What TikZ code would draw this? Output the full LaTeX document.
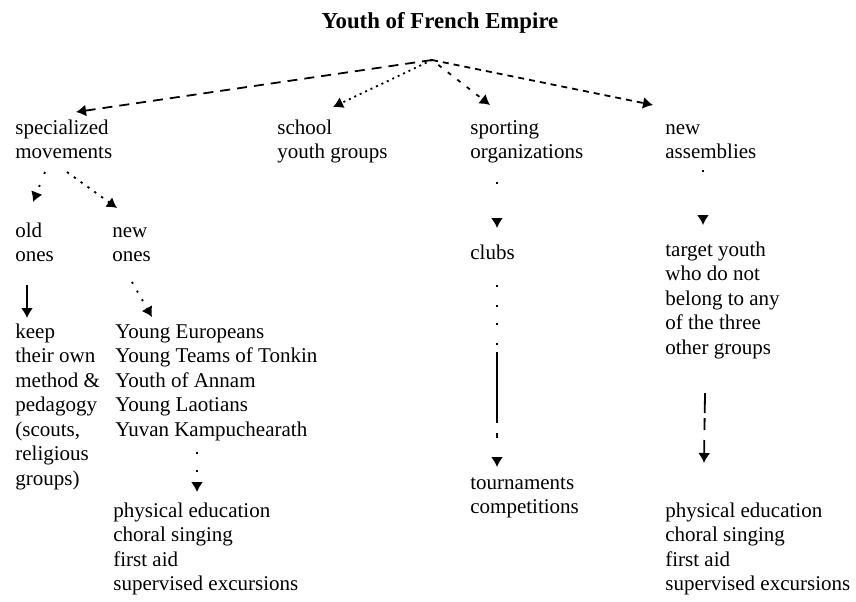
\documentclass[tikz,border=0pt]{standalone}
\usepackage{fontspec}
\setmainfont{Liberation Serif}
\usetikzlibrary{arrows.meta}
\newcommand{\bodysize}{\fontsize{10.5}{12.25}\selectfont}
\newcommand{\stack}[1]{\begin{tabular}[t]{@{}l@{}}#1\end{tabular}}
\tikzset{
	lbl/.style={anchor=base west, inner sep=0pt, font=\bodysize},
	link/.style={line width=0.9pt, -{Latex[length=5pt,width=6pt]}},
}

\begin{document}
\begin{tikzpicture}[x=0.5pt, y=-0.5pt]
			%%%%% START %%%%%
			\useasboundingbox (0, 0) rectangle (856, 601);
			
			\node[anchor=base, inner sep=0pt, font=\bfseries\fontsize{11.4}{13}\selectfont] (title) at (440, 28) {Youth of French Empire};
			\coordinate (root) at (432, 60);
			
			\node[lbl] (spec) at (15, 134) {\stack{specialized\\movements}};
			\node[lbl] (school) at (277, 134) {\stack{school\\youth groups}};
			\node[lbl] (sport) at (470, 134) {\stack{sporting\\organizations}};
			\node[lbl] (assem) at (665, 134) {\stack{new\\assemblies}};
			
			\draw[link, dash pattern=on 5pt off 3.5pt] (root) -- ([shift={(61,-22)}]spec.base west);
			\draw[link, dash pattern=on 1pt off 2pt] (root) -- ([shift={(56,-27)}]school.base west);
			\draw[link, dash pattern=on 2pt off 4pt, shorten <=4pt] (root) -- ([shift={(20,-29)}]sport.base west);
			\draw[link, dash pattern=on 3pt off 2.5pt] (root) -- ([shift={(-12,-29)}]assem.base west);
			
			\node[lbl] (old) at (15, 237) {\stack{old\\ones}};
			\node[lbl] (new) at (112, 237) {\stack{new\\ones}};
			
			\draw[link, dash pattern=on 1pt off 6pt] ([shift={(30,38)}]spec.base west) -- ([shift={(18,-35)}]old.base west);
			\draw[link, dash pattern=on 1.2pt off 3pt] ([shift={(52,38)}]spec.base west) -- ([shift={(5,-29)}]new.base west);
			
			\node[lbl] (keep) at (15, 338) {\stack{keep\\their own\\method \&\\pedagogy\\(scouts,\\religious\\groups)}};
			\node[lbl] (young) at (115, 338) {\stack{Young Europeans\\Young Teams of Tonkin\\Youth of Annam\\Young Laotians\\Yuvan Kampuchearath}};
			
			\draw[link] ([shift={(12,48)}]old.base west) -- ([shift={(12,-20)}]keep.base west);
			\draw[link, dash pattern=on 1pt off 4pt] ([shift={(20,45)}]new.base west) -- ([shift={(37,-21)}]young.base west);
			
			\node[lbl] (physL) at (113, 517) {\stack{physical education\\choral singing\\first aid\\supervised excursions}};
			\draw[link, dash pattern=on 1pt off 8pt] ([shift={(82,114)}]young.base west) -- ([shift={(84,-25)}]physL.base west);
			
			\node[lbl] (clubs) at (470, 259) {clubs};
			\node[lbl] (tourn) at (470, 489) {\stack{tournaments\\competitions}};
			
			\draw[link, dash pattern=on 1pt off 40pt] ([shift={(27,48)}]sport.base west) -- ([shift={(27,-31)}]clubs.base west);
			\draw[link, dash pattern=on 1pt off 9pt on 1pt off 8pt on 1pt off 9pt on 1pt off 3.5pt on 35.5pt off 5pt on 2.5pt off 20pt] ([shift={(27,26)}]clubs.base west) -- ([shift={(27,-22)}]tourn.base west);
			
			\node[lbl] (target) at (665, 256) {\stack{target youth\\who do not\\belong to any\\of the three\\other groups}};
			\node[lbl] (physR) at (665, 517) {\stack{physical education\\choral singing\\first aid\\supervised excursions}};
			
			\draw[link, dash pattern=on 1pt off 40pt] ([shift={(38,36)}]assem.base west) -- ([shift={(38,-31)}]target.base west);
			\draw[link, dash pattern=on 10pt off 2.5pt on 6pt off 5pt on 30pt off 5pt] ([shift={(40,137)}]target.base west) -- ([shift={(39,-54)}]physR.base west);
			
			%%%%% END %%%%%
		\end{tikzpicture}
\end{document}
